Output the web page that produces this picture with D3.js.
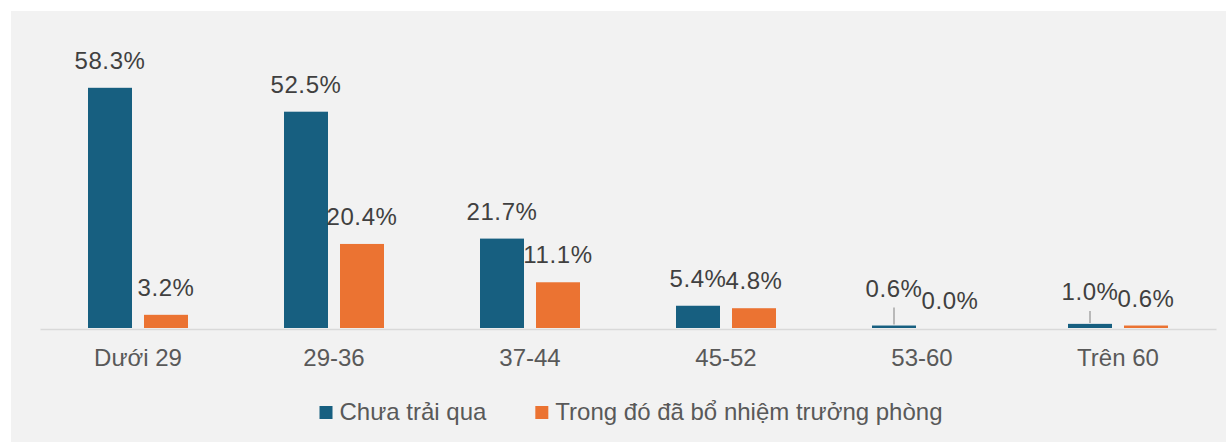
<!DOCTYPE html>
<html>
<head>
<meta charset="utf-8">
<script src="https://cdn.jsdelivr.net/npm/d3@7"></script>
<style>
  body { margin: 0; background: #fff; }
  svg { display: block; font-family: "Liberation Sans", Arial, sans-serif; }
</style>
</head>
<body>
<div id="chart"></div>
<script>
// Age groups and the share in each group
var categories = ['Dưới 29', '29-36', '37-44', '45-52', '53-60', 'Trên 60'];
var seriesNames = ['Chưa trải qua', 'Trong đó đã bổ nhiệm trưởng phòng'];
var chuaTraiQua = [58.3, 52.5, 21.7, 5.4, 0.6, 1.0];
var daBoNhiem = [3.2, 20.4, 11.1, 4.8, 0.0, 0.6];

var colors = ['#175f80', '#eb7332'];

// Labels that are lifted above tiny bars with a leader line (px)
var labelLift = { 'Chưa trải qua|53-60': 10, 'Chưa trải qua|Trên 60': 5 };

var width = 1227, height = 442;
var baseline = 328;

var svg = d3.select('#chart').append('svg')
  .attr('width', width)
  .attr('height', height);

svg.append('rect')
  .attr('x', 11).attr('y', 11)
  .attr('width', 1215).attr('height', 431)
  .attr('fill', '#f2f2f2');

var x = d3.scaleBand()
  .domain(categories)
  .range([40, 1216]);

var xInner = d3.scaleBand()
  .domain(seriesNames)
  .range([48, 148])
  .paddingInner(12 / 56);

var y = d3.scaleLinear()
  .domain([0, 60])
  .range([baseline, baseline - 60 * 4.12]);

var rows = [];
categories.forEach(function (c, i) {
  rows.push({ cat: c, series: seriesNames[0], value: chuaTraiQua[i], color: colors[0] });
  rows.push({ cat: c, series: seriesNames[1], value: daBoNhiem[i], color: colors[1] });
});

// Axis
var axis = svg.append('g')
  .attr('transform', 'translate(0,' + (baseline + 1) + ')')
  .call(d3.axisBottom(x).tickSize(0).tickSizeOuter(0).tickPadding(20));
axis.select('.domain').attr('stroke', '#d9d9d9').attr('stroke-width', 1.5);
axis.selectAll('text')
  .attr('font-size', 24)
  .attr('font-family', null)
  .attr('fill', '#595959');

// Bars
svg.append('g').selectAll('rect')
  .data(rows)
  .join('rect')
  .attr('x', function (d) { return x(d.cat) + xInner(d.series); })
  .attr('y', function (d) { return y(d.value); })
  .attr('width', xInner.bandwidth())
  .attr('height', function (d) { return y(0) - y(d.value); })
  .attr('fill', function (d) { return d.color; });

// Leader lines
var lifted = rows.filter(function (d) { return labelLift[d.series + '|' + d.cat]; });
svg.append('g').selectAll('line')
  .data(lifted)
  .join('line')
  .attr('x1', function (d) { return x(d.cat) + xInner(d.series) + xInner.bandwidth() / 2; })
  .attr('x2', function (d) { return x(d.cat) + xInner(d.series) + xInner.bandwidth() / 2; })
  .attr('y1', function (d) { return y(d.value) - 19 - labelLift[d.series + '|' + d.cat] + 11; })
  .attr('y2', function (d) { return y(d.value) - 1; })
  .attr('stroke', '#a6a6a6')
  .attr('stroke-width', 1.5);

// Value labels
svg.append('g').selectAll('text')
  .data(rows)
  .join('text')
  .attr('x', function (d) { return x(d.cat) + xInner(d.series) + xInner.bandwidth() / 2; })
  .attr('y', function (d) { return y(d.value) - 19 - (labelLift[d.series + '|' + d.cat] || 0); })
  .attr('text-anchor', 'middle')
  .attr('font-size', 24)
  .attr('letter-spacing', 0.6)
  .attr('fill', '#404040')
  .text(function (d) { return d.value.toFixed(1) + '%'; });

// Legend
var legend = svg.append('g');
var items = legend.selectAll('g')
  .data(seriesNames)
  .join('g');
items.append('rect')
  .attr('y', 406)
  .attr('width', 13).attr('height', 13)
  .attr('fill', function (d, i) { return colors[i]; });
items.append('text')
  .attr('x', 20)
  .attr('y', 420)
  .attr('font-size', 24)
  .attr('fill', '#595959')
  .text(function (d) { return d; });

var offset = 0;
items.each(function () {
  var g = d3.select(this);
  g.attr('transform', 'translate(' + offset + ',0)');
  offset += 20 + g.select('text').node().getComputedTextLength() + 49;
});
var total = offset - 49;
legend.attr('transform', 'translate(' + (631 - total / 2) + ',0)');
</script>
</body>
</html>
